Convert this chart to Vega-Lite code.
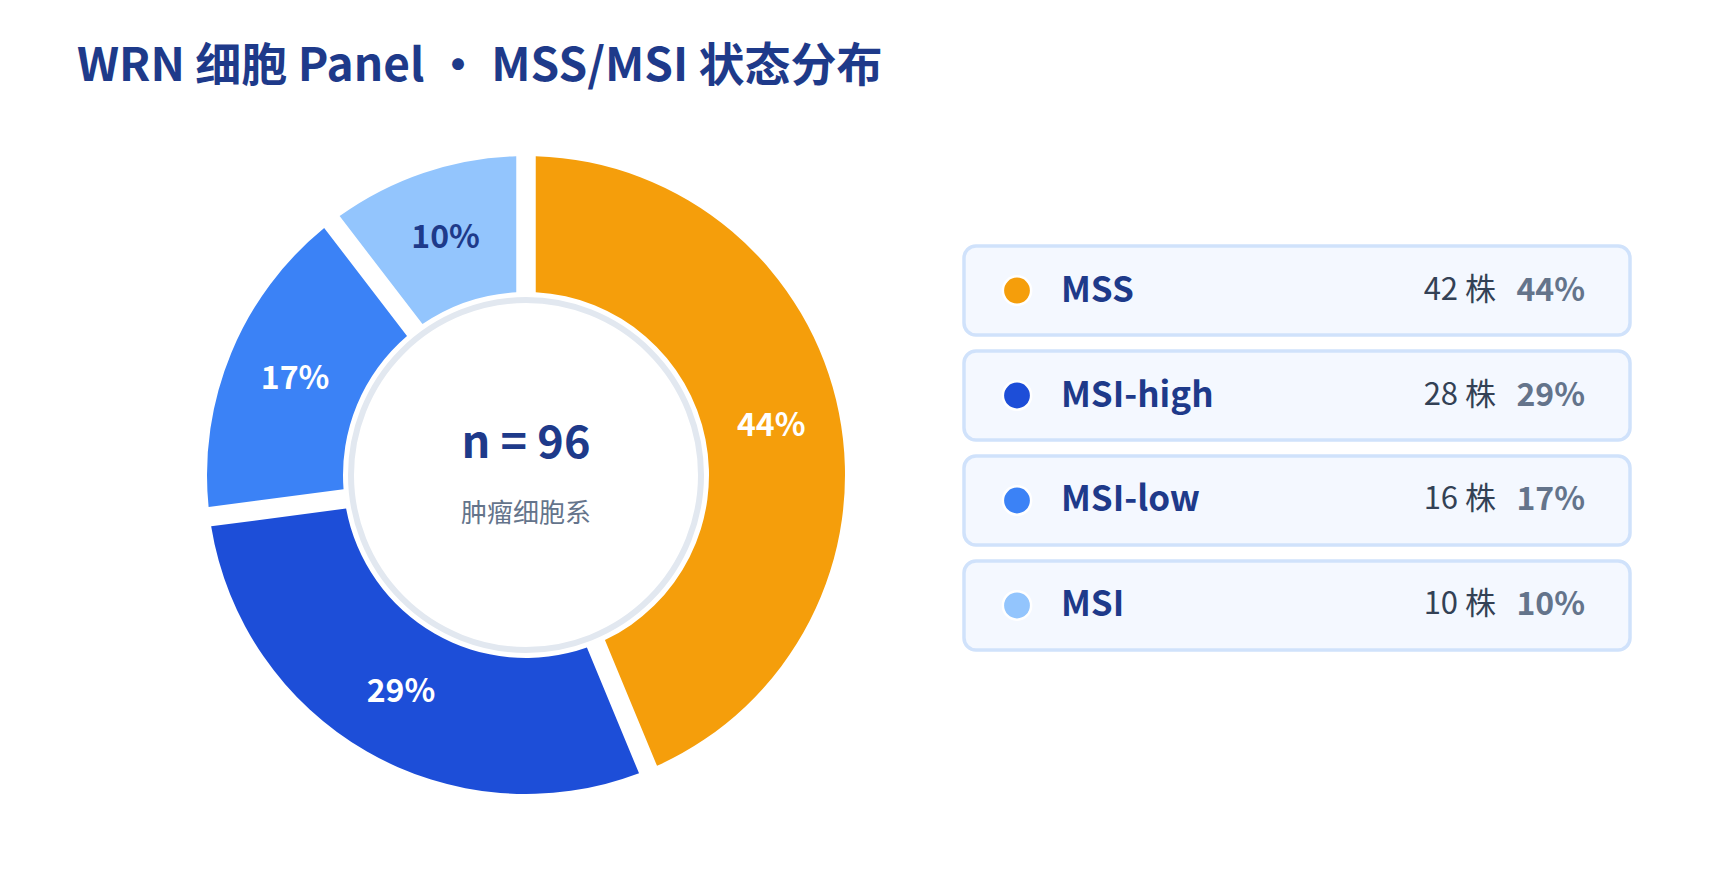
{
  "$schema": "https://vega.github.io/schema/vega-lite/v6.json",
  "background": "white",
  "padding": {"left": 77, "top": 44, "right": 20, "bottom": 20},
  "config": {
    "view": {"stroke": null},
    "font": "Noto Sans CJK SC",
    "axis": {"disable": true},
    "legend": {"disable": true}
  },
  "title": {
    "text": "WRN 细胞 Panel • MSS/MSI 状态分布",
    "anchor": "start",
    "font": "Noto Sans CJK SC",
    "fontSize": 46,
    "fontWeight": "bold",
    "color": "#1e3a8a",
    "dx": -129,
    "offset": 64
  },
  "datasets": {
    "status": [
      {"status": "MSS", "rank": 1, "count": 42, "pctText": "44%", "countText": "42 株"},
      {"status": "MSI-high", "rank": 2, "count": 28, "pctText": "29%", "countText": "28 株"},
      {"status": "MSI-low", "rank": 3, "count": 16, "pctText": "17%", "countText": "16 株"},
      {"status": "MSI", "rank": 4, "count": 10, "pctText": "10%", "countText": "10 株"}
    ],
    "center": [
      {"main": "n = 96", "sub": "肿瘤细胞系"}
    ]
  },
  "spacing": 116,
  "hconcat": [
    {
      "width": 640,
      "height": 640,
      "layer": [
        {
          "data": {"name": "status"},
          "mark": {"type": "arc", "outerRadius": 319, "innerRadius": 183, "padAngle": 0.053},
          "encoding": {
            "theta": {"field": "count", "type": "quantitative", "stack": true},
            "order": {"field": "rank", "type": "quantitative"},
            "color": {
              "field": "status",
              "type": "nominal",
              "scale": {
                "domain": ["MSS", "MSI-high", "MSI-low", "MSI"],
                "range": ["#f59e0b", "#1d4ed8", "#3b82f6", "#93c5fd"]
              },
              "legend": null
            }
          }
        },
        {
          "data": {"name": "status"},
          "mark": {"type": "text", "radius": 250, "fontSize": 32, "fontWeight": "bold", "align": "center", "baseline": "middle"},
          "encoding": {
            "theta": {"field": "count", "type": "quantitative", "stack": true},
            "order": {"field": "rank", "type": "quantitative"},
            "text": {"field": "pctText"},
            "color": {
              "condition": {"test": "datum.status === 'MSI'", "value": "#1e3a8a"},
              "value": "#ffffff"
            }
          }
        },
        {
          "data": {"name": "center"},
          "mark": {"type": "arc", "outerRadius": 175, "innerRadius": 0, "fill": "#ffffff", "stroke": "#e2e8f0", "strokeWidth": 6},
          "encoding": {}
        },
        {
          "data": {"name": "center"},
          "mark": {"type": "text", "fontSize": 45, "fontWeight": "bold", "color": "#1e3a8a", "align": "center", "baseline": "middle", "dy": -31},
          "encoding": {"text": {"field": "main"}}
        },
        {
          "data": {"name": "center"},
          "mark": {"type": "text", "fontSize": 26, "color": "#64748b", "align": "center", "baseline": "middle", "dy": 39},
          "encoding": {"text": {"field": "sub"}}
        }
      ]
    },
    {
      "width": 666,
      "height": 640,
      "data": {"name": "status"},
      "encoding": {
        "y": {
          "field": "status",
          "type": "nominal",
          "scale": {
            "domain": ["MSS", "MSI-high", "MSI-low", "MSI"],
            "range": [91, 495],
            "paddingInner": 0.152,
            "paddingOuter": 0
          },
          "axis": null
        }
      },
      "layer": [
        {
          "mark": {"type": "rect", "fill": "#f4f8ff", "stroke": "#d0e2fb", "strokeWidth": 3.5, "cornerRadius": 12}
        },
        {
          "mark": {"type": "point", "shape": "circle", "filled": true, "size": 800, "stroke": "#ffffff", "strokeWidth": 2.5, "opacity": 1, "x": 53},
          "encoding": {
            "color": {
              "field": "status",
              "type": "nominal",
              "scale": {
                "domain": ["MSS", "MSI-high", "MSI-low", "MSI"],
                "range": ["#f59e0b", "#1d4ed8", "#3b82f6", "#93c5fd"]
              },
              "legend": null
            }
          }
        },
        {
          "mark": {"type": "text", "x": 97, "align": "left", "baseline": "middle", "fontSize": 35, "fontWeight": "bold", "color": "#1e3a8a"},
          "encoding": {"text": {"field": "status"}}
        },
        {
          "mark": {"type": "text", "x": 532, "align": "right", "baseline": "middle", "fontSize": 31, "color": "#334155"},
          "encoding": {"text": {"field": "countText"}}
        },
        {
          "mark": {"type": "text", "x": 621, "align": "right", "baseline": "middle", "fontSize": 32, "fontWeight": "bold", "color": "#64748b"},
          "encoding": {"text": {"field": "pctText"}}
        }
      ]
    }
  ]
}
